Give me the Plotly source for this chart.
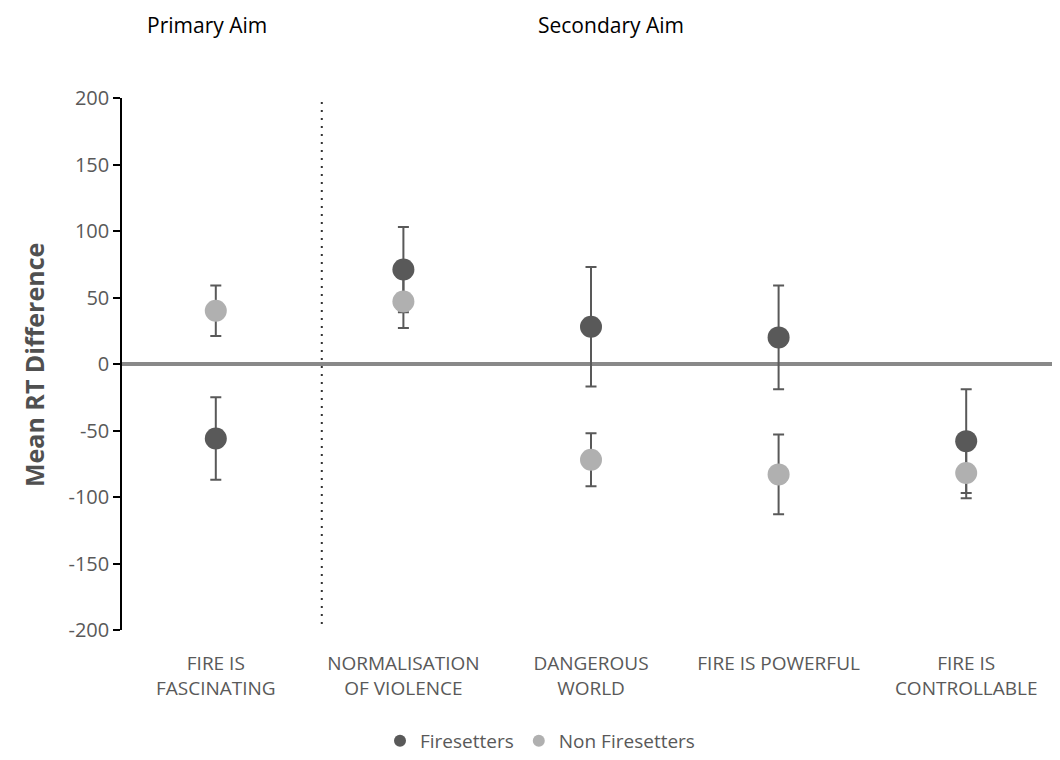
import plotly.graph_objects as go

categories = ["FIRE IS<br>FASCINATING", "NORMALISATION<br>OF VIOLENCE", "DANGEROUS<br>WORLD",
              "FIRE IS POWERFUL", "FIRE IS<br>CONTROLLABLE"]
fire_mean = [-56, 71, 28, 20, -58]
fire_err = [31, 32, 45, 39, 39]
non_mean = [40, 47, -72, -83, -82]
non_err = [19, 20, 20, 30, 19]
y_ticks = [-200, -150, -100, -50, 0, 50, 100, 150, 200]
y_tick_labels = [str(v) for v in y_ticks]

DARK = "#595959"
LIGHT = "#b0b0b0"
ERR = "#595959"
FONT = "Open Sans"

# the page body adds an 8px margin; figure is sized to fit the window
W, H = 1052, 752
L, T = 114, 90
PW, PH = 938, 536

x = list(range(len(categories)))
fig = go.Figure()

for mean, err in [(fire_mean, fire_err), (non_mean, non_err)]:
    fig.add_trace(go.Scatter(
        x=x, y=mean, mode="markers", showlegend=False, hoverinfo="skip",
        marker=dict(size=1, color="rgba(0,0,0,0)"),
        error_y=dict(type="data", array=err, visible=True, color=ERR, thickness=2, width=5.5),
    ))

fig.add_trace(go.Scatter(x=x, y=fire_mean, mode="markers", name="Firesetters",
                         marker=dict(size=22, color=DARK)))
fig.add_trace(go.Scatter(x=x, y=non_mean, mode="markers", name="Non Firesetters",
                         marker=dict(size=22, color=LIGHT)))

fig.add_shape(type="line", xref="paper", yref="y", x0=0, x1=1, y0=0, y1=0,
              line=dict(color="#898989", width=4), layer="below")
fig.add_shape(type="line", xref="x", yref="paper", x0=0.565, x1=0.565, y0=(634 - 628) / PH, y1=1.0,
              line=dict(color="#333333", width=2, dash="2px,6px"))


def px_x(X):
    return (X - 122) / PW


def px_y(Y):
    return 1 - (Y - 98) / PH


fig.add_annotation(text="Primary Aim", xref="paper", yref="paper", x=px_x(207), y=px_y(24),
                   showarrow=False, xanchor="center", yanchor="middle",
                   font=dict(family=FONT, size=21, color="#000000"))
fig.add_annotation(text="Secondary Aim", xref="paper", yref="paper", x=px_x(611), y=px_y(24),
                   showarrow=False, xanchor="center", yanchor="middle",
                   font=dict(family=FONT, size=21, color="#000000"))
fig.add_annotation(text="<b>Mean RT Difference</b>", xref="paper", yref="paper", x=px_x(34), y=px_y(367),
                   showarrow=False, xanchor="center", yanchor="middle", textangle=-90,
                   font=dict(family=FONT, size=25, color="#505050"))

fig.update_layout(
    width=W, height=H,
    margin=dict(l=L, r=0, t=T, b=H - T - PH, pad=0),
    paper_bgcolor="white", plot_bgcolor="white",
    font=dict(family=FONT, color=DARK, size=19),
    xaxis=dict(range=[-0.5, 4.5], tickmode="array", tickvals=x, ticktext=categories,
               showgrid=False, zeroline=False, showline=False,
               ticks="outside", ticklen=16, tickcolor="rgba(0,0,0,0)",
               tickfont=dict(size=19, color=DARK)),
    yaxis=dict(range=[-200, 200], tickmode="array", tickvals=y_ticks, ticktext=y_tick_labels,
               showgrid=False, zeroline=False, showline=True, linecolor="#000000", linewidth=1.5,
               ticks="outside", ticklen=7, tickcolor="#000000", tickwidth=1.5,
               tickfont=dict(size=20, color=DARK)),
    legend=dict(orientation="h", x=px_x(540), xanchor="center", y=px_y(746), yanchor="middle",
                font=dict(size=19, color=DARK), itemsizing="constant", itemwidth=30,
                traceorder="normal"),
)

fig.write_html("out.html")
